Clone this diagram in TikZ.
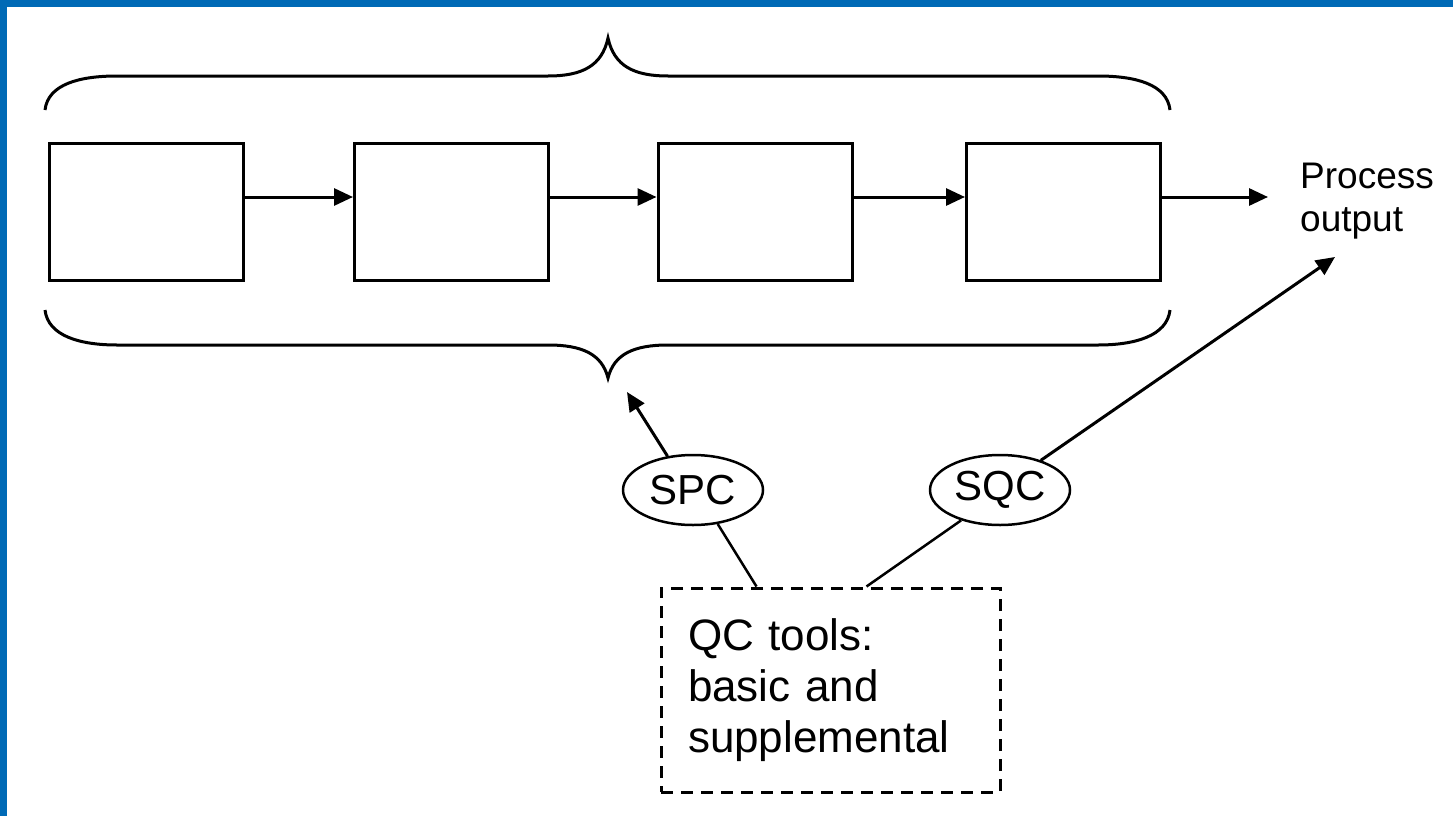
\documentclass[tikz,border=0pt]{standalone}
\usepackage{fontspec}
\setmainfont{Liberation Sans}
\usetikzlibrary{arrows.meta,shapes.geometric}
\definecolor{frameblue}{RGB}{0,106,182}
\begin{document}
\begin{tikzpicture}[x=1pt,y=-1pt,
  blk/.style={draw, line width=3pt, minimum width=194pt, minimum height=137pt, inner sep=0pt},
  arr/.style={line width=3pt, -{Triangle[length=19pt,width=17pt]}},
  conn/.style={line width=2.5pt},
  oval/.style={draw, ellipse, line width=2.5pt, minimum width=140pt, minimum height=70pt, inner sep=0pt, font=\fontsize{42}{48}\selectfont},
  qcbox/.style={draw, dashed, dash pattern=on 12pt off 8pt, line width=3pt, minimum width=339pt, minimum height=204pt, text width=285pt, inner xsep=27pt, align=left, font=\fontsize{44}{51}\selectfont},
  brace/.style={line width=3pt}]
\useasboundingbox (0,0) rectangle (1453,816);
\fill[frameblue] (0,0) rectangle (1453,7);
\fill[frameblue] (0,0) rectangle (7,816);

% process boxes
\node[blk] (b1) at (146,211.5) {};
\node[blk] (b2) at (451.5,211.5) {};
\node[blk] (b3) at (755,211.5) {};
\node[blk] (b4) at (1063.5,211.5) {};

\draw[arr] ([yshift=14.5pt]b1.east) -- ([yshift=14.5pt]b2.west);
\draw[arr] ([yshift=14.5pt]b2.east) -- ([yshift=14.5pt]b3.west);
\draw[arr] ([yshift=14.5pt]b3.east) -- ([yshift=14.5pt]b4.west);

\node[anchor=north west, inner sep=0pt, align=left, font=\fontsize{37}{43}\selectfont] (out) at (1300,163) {Process\\output};
\coordinate (outtip) at (1268,197);
\draw[arr] ([yshift=14.5pt]b4.east) -- (outtip);

% braces
\draw[brace] (45,110) .. controls (48,84) and (80,76) .. (117,76) -- (548,76)
  .. controls (582,76) and (602,66) .. (608,38)
  .. controls (614,66) and (634,76) .. (668,76) -- (1098,76)
  .. controls (1135,76) and (1167,84) .. (1170,110);
\draw[brace] (45,310) .. controls (48,336) and (80,345) .. (117,345) -- (548,345)
  .. controls (582,345) and (602,354) .. (608,378)
  .. controls (614,354) and (634,345) .. (668,345) -- (1098,345)
  .. controls (1135,345) and (1167,336) .. (1170,310);

% ovals
\node[oval] (spc) at (693,490) {SPC};
\node[oval] (sqc) at (1000,490) {SQC};

% QC box
\node[qcbox] (qc) at (830.5,690) {QC tools:\\basic and\\supplemental};

\coordinate (bracetip) at (627,392);
\coordinate (outarrow) at (1335,257);
\draw[arr] (spc.127) -- (bracetip);
\draw[arr] (sqc.36) -- (outarrow);
\draw[conn] (spc.-54) -- ([xshift=97pt]qc.north west);
\draw[conn] (sqc.-142) -- ([xshift=207pt]qc.north west);
\end{tikzpicture}
\end{document}
